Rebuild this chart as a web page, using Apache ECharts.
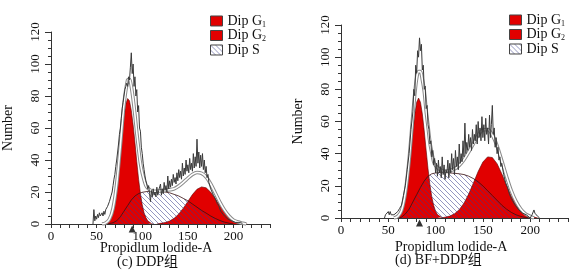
<!DOCTYPE html>
<html>
<head>
<meta charset="utf-8">
<script src="https://cdn.jsdelivr.net/npm/echarts@6/dist/echarts.min.js"></script>
<style>
  html, body { margin: 0; padding: 0; background: #fff; }
  #chart { width: 573px; height: 270px; }
</style>
</head>
<body>
<div id="chart"></div>
<script>
// values, as [PI-A channel, count]
// (c) DDP group
var rawC = [[46,0],[47,9],[48,2],[49,5],[50,3],[51,6],[52,4],[53,7],[54,5],[55,4],[56,7],[57,5],[58,8],[59,6],[60,9],[61,8],[62,11],[63,10],[64,14],[65,13],[66,18],[67,20],[68,24],[69,28],[70,31],[71,36],[72,40],[73,45],[74,50],[75,56],[76,60],[77,66],[78,72],[79,76],[80,80],[81,84],[82,86],[83,88],[84,86],[85,92],[86,90],[87,98],[88,107],[89,94],[90,100],[91,86],[92,92],[93,80],[94,84],[95,70],[96,74],[97,60],[98,58],[99,48],[100,44],[101,38],[102,34],[103,30],[104,27],[105,25],[106,22],[107,24],[108,19],[109,14],[110,21],[111,17],[112,22],[113,18],[114,20],[115,17],[116,23],[117,18],[118,21],[119,20],[120,25],[121,18],[122,22],[123,19],[124,26],[125,21],[126,24],[127,20],[128,30],[129,22],[130,27],[131,23],[132,28],[133,24],[134,31],[135,26],[136,29],[137,25],[138,32],[139,27],[140,34],[141,29],[142,33],[143,28],[144,38],[145,30],[146,35],[147,31],[148,40],[149,33],[150,37],[151,32],[152,41],[153,34],[154,38],[155,33],[156,44],[157,35],[158,42],[159,36],[160,53],[161,38],[162,45],[163,35],[164,43],[165,36],[166,44],[167,34],[168,40],[169,32],[170,36],[171,29],[172,31],[173,26],[174,27],[175,22],[176,23],[178,18],[180,16],[182,13],[184,11],[186,8],[188,7],[190,5],[192,4],[194,3],[196,3],[198,2],[200,2],[202,1],[205,1],[208,1],[210,0]];
var fitC = [[56,0],[60,0.7],[64,3],[68,9.8],[72,25],[76,49],[80,75],[84,90],[86,90.5],[88,86],[90,78],[92,68],[94,57],[96,47],[98,38],[100,32],[104,24],[108,21.5],[112,20.5],[116,20.5],[120,20.7],[125,21],[130,21.4],[135,22],[140,23.7],[145,26],[150,28.6],[155,31],[160,32.2],[165,31.7],[170,29.4],[175,25],[180,19.4],[185,13.7],[190,8.8],[195,5],[200,2.4],[205,1.2],[210,0.5],[214,0]];
var g1C = [[56,0],[58,0.3],[60,0.7],[62,1.5],[64,3],[66,5.4],[68,9.3],[70,15],[72,23],[74,33],[76,45],[78,56],[80,67],[82,75],[84,78.4],[86,77],[88,71],[90,62],[92,51],[94,39],[96,28],[98,19],[100,12],[102,7],[104,4],[106,2],[108,1],[110,0.3],[112,0]];
var g2C = [[116,0],[120,0.4],[125,0.9],[130,1.9],[135,3.6],[140,6.2],[145,9.9],[150,14.1],[155,18.4],[160,21.7],[165,23.2],[170,22.6],[175,19.9],[180,15.9],[185,11.5],[190,7.6],[195,4.5],[200,2.4],[205,1.2],[210,0.5],[215,0]];
var sC = [[62,0],[64,0.2],[68,0.8],[72,2],[76,4.5],[80,8],[84,11.5],[88,15],[92,17.5],[96,19],[100,19.8],[105,20.3],[110,20.5],[115,20.5],[120,20.3],[125,20],[130,19.5],[135,18.5],[140,17.5],[145,16],[150,14.5],[155,12.5],[160,10.5],[165,8.5],[170,6.8],[175,5],[180,3.5],[185,2.2],[190,1.2],[195,0.5],[200,0]];
var markC = 89;

// (d) BF+DDP group
var rawD = [[46,0],[47,2],[48,3],[49,1],[50,4],[51,2],[52,4],[53,2],[54,3],[55,1],[56,2],[58,3],[60,4],[62,6],[64,8],[66,14],[68,20],[70,30],[72,40],[74,55],[76,66],[77,80],[78,76],[79,95],[80,90],[81,104],[82,100],[83,112],[84,104],[85,108],[86,92],[87,95],[88,80],[89,82],[90,68],[91,70],[92,58],[93,55],[94,46],[95,48],[96,38],[97,42],[98,33],[99,37],[100,28],[101,34],[102,26],[103,36],[104,28],[105,32],[106,25],[107,38],[108,27],[109,33],[110,24],[111,30],[112,28],[113,36],[114,25],[115,34],[116,28],[117,40],[118,30],[119,37],[120,27],[121,42],[122,32],[123,38],[124,30],[125,46],[126,34],[127,40],[128,35],[129,48],[130,38],[131,59],[132,40],[133,47],[134,42],[135,52],[136,44],[137,50],[138,42],[139,55],[140,46],[141,52],[142,48],[143,58],[144,46],[145,60],[146,50],[147,56],[148,48],[149,63],[150,50],[151,58],[152,48],[153,62],[154,52],[155,56],[156,46],[157,64],[158,50],[159,58],[160,70],[161,52],[162,56],[163,44],[164,50],[165,40],[166,44],[167,36],[168,38],[169,32],[170,34],[172,27],[174,22],[176,19],[178,15],[180,12],[182,10],[184,8],[186,7],[188,5],[190,4],[192,3],[194,2],[196,2],[198,1],[200,0],[202,2],[204,5],[205,3],[206,4],[208,1],[210,0]];
var fitD = [[56,0],[60,1],[64,4.7],[68,15.6],[72,36],[76,64],[78,77],[80,87],[82,91],[84,91],[86,86],[88,79],[90,67],[92,57],[94,47],[96,40.6],[98,35],[100,32.5],[105,30],[110,29],[115,29.5],[120,30.5],[125,32.7],[130,36.2],[135,41],[140,46.3],[145,51.4],[150,54.8],[155,55],[160,51.6],[165,44.8],[170,35.5],[175,25.8],[180,17],[185,10.3],[190,5.6],[195,2.6],[200,1],[204,0]];
var g1D = [[56,0],[58,0.4],[60,1],[62,2.1],[64,4.2],[66,7.7],[68,13.1],[70,20.7],[72,30.6],[74,42.2],[76,54.2],[78,64.7],[80,72],[82,74.6],[84,72],[86,64.7],[88,54.2],[90,42.2],[92,30.6],[94,20.7],[96,13.1],[98,7.7],[100,4.2],[102,2.1],[104,1],[106,0.4],[108,0]];
var g2D = [[106,0],[110,0.5],[115,1.2],[120,2.6],[125,5.2],[130,9.2],[135,14.9],[140,21.8],[145,28.9],[150,34.8],[155,38],[160,37.6],[165,33.8],[170,27.5],[175,20.3],[180,13.6],[185,8.3],[190,4.6],[195,2.3],[200,1],[205,0.4],[208,0]];
var sD = [[60,0],[64,0.5],[68,2.5],[72,5.5],[76,10],[80,14.5],[84,19],[88,23],[92,26],[96,27.5],[100,28],[105,28.3],[110,28.3],[115,28],[120,27.8],[125,27.5],[130,27],[135,26],[140,24.5],[145,22.5],[150,20],[155,17],[160,14],[165,11],[170,8],[175,5.5],[180,3.5],[185,2],[190,1],[195,0.3],[200,0]];
var markD = 83;

var yTicks = [0, 20, 40, 60, 80, 100, 120];
var xLabels = [0, 50, 100, 150, 200];

var serif = "'Liberation Serif', 'Noto Sans CJK SC', serif";
var RED = '#e10000';

// diagonal hatch for the S phase
function makeHatch() {
  var s = 5;
  var c = document.createElement('canvas');
  c.width = s; c.height = s;
  var ctx = c.getContext('2d');
  ctx.strokeStyle = 'rgba(55,60,140,0.6)';
  ctx.lineWidth = 0.9;
  ctx.beginPath();
  ctx.moveTo(-1, -1); ctx.lineTo(s + 1, s + 1);
  ctx.moveTo(s - 1, -1); ctx.lineTo(s + 1, 1);
  ctx.moveTo(-1, s - 1); ctx.lineTo(1, s + 1);
  ctx.stroke();
  return c;
}
var hatch = { image: makeHatch(), repeat: 'repeat' };

function xAxisOf(idx) {
  return {
    type: 'value', gridIndex: idx, min: 0, max: 240, interval: 10,
    axisLine: { lineStyle: { color: '#333', width: 1 } },
    axisTick: { length: 4, lineStyle: { color: '#333' } },
    axisLabel: {
      margin: 6, color: '#111', fontFamily: serif, fontSize: 13,
      formatter: function (v) { return xLabels.indexOf(v) >= 0 ? String(v) : ''; }
    },
    splitLine: { show: false }
  };
}

function yAxisOf(idx) {
  return {
    type: 'value', gridIndex: idx, min: 0, max: 120, interval: 20,
    name: 'Number', nameLocation: 'middle', nameGap: 36,
    nameTextStyle: { fontFamily: serif, fontSize: 14, color: '#111' },
    axisLine: { show: true, lineStyle: { color: '#333', width: 1 } },
    axisTick: { show: true, length: 6, lineStyle: { color: '#333' } },
    minorTick: { show: true, splitNumber: 4, length: 3, lineStyle: { color: '#333' } },
    axisLabel: {
      rotate: 90, margin: 9, color: '#111', fontFamily: serif, fontSize: 13,
      formatter: function (v) { return yTicks.indexOf(v) >= 0 ? String(v) : ''; }
    },
    splitLine: { show: false }
  };
}

function panelSeries(idx, raw, fit, g1, g2, s, mark) {
  var base = { type: 'line', xAxisIndex: idx, yAxisIndex: idx, symbol: 'none', animation: false };
  return [
    Object.assign({}, base, { name: 'Dip G1', data: g1, z: 2,
      itemStyle: { color: RED },
      lineStyle: { color: '#5a0000', width: 0.6 },
      areaStyle: { color: RED, opacity: 1 } }),
    Object.assign({}, base, { name: 'Dip G2', data: g2, z: 2,
      itemStyle: { color: RED },
      lineStyle: { color: '#5a0000', width: 0.6 },
      areaStyle: { color: RED, opacity: 1 } }),
    Object.assign({}, base, { name: 'Dip S', data: s, z: 3,
      itemStyle: { color: '#7a82c0' },
      lineStyle: { color: '#3a1010', width: 0.8 },
      areaStyle: { color: hatch, opacity: 1 } }),
    Object.assign({}, base, { name: 'fitEdge', data: fit, z: 4, smooth: 0.3,
      lineStyle: { color: '#8a8a8a', width: 3.6 } }),
    Object.assign({}, base, { name: 'fit', data: fit, z: 4, smooth: 0.3,
      lineStyle: { color: '#ffffff', width: 1.6 } }),
    Object.assign({}, base, { name: 'raw', data: raw, z: 5,
      lineStyle: { color: '#3a3a3a', width: 1 } }),
    { type: 'scatter', name: 'marker', xAxisIndex: idx, yAxisIndex: idx, animation: false,
      data: [[mark, 0]], symbol: 'triangle', symbolSize: [7, 7], symbolOffset: [0, 5],
      clip: false, z: 6, itemStyle: { color: '#000' } }
  ];
}

function legendOf(left, top) {
  return {
    orient: 'vertical', left: left, top: top, icon: 'rect',
    itemWidth: 12, itemHeight: 10, itemGap: 0,
    textStyle: {
      fontFamily: serif, fontSize: 14, color: '#111', lineHeight: 13,
      rich: { sub: { fontFamily: serif, fontSize: 8, color: '#111', padding: [7, 0, 0, 0] } }
    },
    formatter: function (n) { return n.replace(/G(\d)/, 'G{sub|$1}'); },
    selectedMode: false,
    data: [
      { name: 'Dip G1', itemStyle: { color: RED, borderColor: '#444', borderWidth: 1 } },
      { name: 'Dip G2', itemStyle: { color: RED, borderColor: '#444', borderWidth: 1 } },
      { name: 'Dip S', itemStyle: { color: hatch, borderColor: '#444', borderWidth: 1 } }
    ]
  };
}

var chart = echarts.init(document.getElementById('chart'), null, { renderer: 'canvas' });
var option = {
  backgroundColor: '#fff',
  animation: false,
  grid: [
    { left: 48, top: 32, width: 222, height: 192 },
    { left: 341, top: 25, width: 227, height: 193 }
  ],
  xAxis: [xAxisOf(0), xAxisOf(1)],
  yAxis: [yAxisOf(0), yAxisOf(1)],
  legend: [legendOf(205, 9), legendOf(504, 8)],
  series: panelSeries(0, rawC, fitC, g1C, g2C, sC, markC)
    .concat(panelSeries(1, rawD, fitD, g1D, g2D, sD, markD)),
  graphic: [
    { type: 'text', left: 100, top: 241,
      style: { text: 'Propidlum lodide-A', font: '14px ' + serif, fill: '#111' } },
    { type: 'text', left: 117, top: 255,
      style: { text: '(c) DDP组', font: '14px ' + serif, fill: '#111' } },
    { type: 'text', left: 395, top: 240,
      style: { text: 'Propidlum lodide-A', font: '14px ' + serif, fill: '#111' } },
    { type: 'text', left: 395, top: 253,
      style: { text: '(d) BF+DDP组', font: '14px ' + serif, fill: '#111' } }
  ]
};
chart.setOption(option);
</script>
</body>
</html>
